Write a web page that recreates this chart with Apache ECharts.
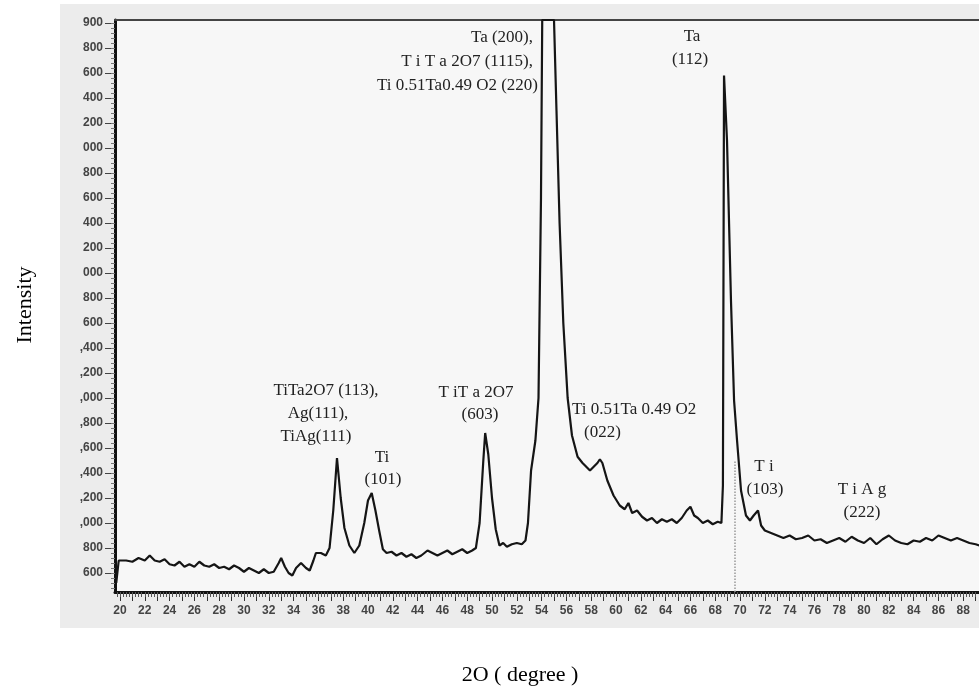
<!DOCTYPE html>
<html>
<head>
<meta charset="utf-8">
<script src="https://cdn.jsdelivr.net/npm/echarts@6/dist/echarts.min.js"></script>
<style>
  html, body { margin: 0; padding: 0; background: #fff; }
  #chart { width: 979px; height: 691px; }
</style>
</head>
<body>
<div id="chart"></div>
<script>
// 2theta (degree) and intensity
const angle = [
  19.7, 19.9, 20.5, 21.0, 21.5, 22.0, 22.4, 22.8, 23.2, 23.6, 24.0, 24.4, 24.8, 25.2, 25.6,
  26.0, 26.4, 26.8, 27.2, 27.6, 28.0, 28.4, 28.8, 29.2, 29.6, 30.0, 30.4, 30.8, 31.2, 31.6,
  32.0, 32.4, 32.8, 33.0, 33.3, 33.6, 33.9, 34.2, 34.6, 35.0, 35.3, 35.6, 35.8, 36.2, 36.6,
  36.9, 37.2, 37.5, 37.8, 38.1, 38.5, 38.9, 39.3, 39.7, 40.0, 40.3, 40.6, 40.9, 41.2, 41.5,
  41.9, 42.3, 42.7, 43.1, 43.5, 43.9, 44.3, 44.8, 45.2, 45.6, 46.0, 46.4, 46.8, 47.2, 47.6,
  48.0, 48.4, 48.7, 49.0, 49.3, 49.45, 49.7, 50.0, 50.3, 50.6, 50.9, 51.2, 51.6, 52.0, 52.4,
  52.7, 52.9, 53.15, 53.5, 53.75, 53.95, 54.05, 55.0, 55.2, 55.45, 55.75, 56.1, 56.45, 56.9, 57.3,
  57.6, 57.9, 58.2, 58.5, 58.7, 58.9, 59.3, 59.8, 60.3, 60.7, 61.0, 61.3, 61.7, 62.1, 62.5,
  62.9, 63.3, 63.7, 64.1, 64.5, 64.9, 65.3, 65.7, 66.0, 66.3, 66.6, 67.0, 67.4, 67.8, 68.2,
  68.5, 68.62, 68.71, 68.95, 69.27, 69.52, 69.76, 70.08, 70.48, 70.8, 71.1, 71.45, 71.7, 72.0, 72.5,
  73.0, 73.5, 74.0, 74.5, 75.0, 75.5, 76.0, 76.5, 77.0, 77.5, 78.0, 78.5, 79.0, 79.5, 80.0,
  80.5, 81.0, 81.5, 82.0, 82.5, 83.0, 83.5, 84.0, 84.5, 85.0, 85.5, 86.0, 86.5, 87.0, 87.5,
  88.0, 88.5, 89.0, 89.3
];
const intensity = [
  520, 700, 700, 690, 720, 700, 740, 700, 690, 710, 670, 660, 690, 650, 670,
  650, 690, 660, 650, 670, 640, 650, 630, 660, 640, 610, 640, 620, 600, 630,
  600, 610, 680, 720, 650, 600, 580, 640, 680, 640, 620, 700, 760, 760, 740,
  800, 1100, 1520, 1200, 960, 820, 760, 820, 1000, 1180, 1240, 1100, 940, 790, 760,
  770, 740, 760, 730, 750, 720, 740, 780, 760, 740, 760, 780, 750, 770, 790,
  760, 780, 800, 1000, 1500, 1720, 1550, 1200, 950, 820, 840, 810, 830, 840, 830,
  860, 1000, 1420, 1660, 2000, 3600, 5024, 5024, 4300, 3400, 2600, 2000, 1700, 1530, 1480,
  1450, 1420, 1450, 1480, 1510, 1480, 1340, 1220, 1140, 1110, 1160, 1080, 1100, 1050, 1020,
  1040, 1000, 1030, 1010, 1030, 1000, 1040, 1100, 1130, 1060, 1040, 1000, 1020, 990, 1010,
  1000, 1300, 4580, 4060, 2780, 1980, 1660, 1260, 1060, 1020, 1060, 1100, 980, 940, 920,
  900, 880, 900, 870, 880, 900, 860, 870, 840, 860, 880, 850, 890, 860, 840,
  880, 830, 870, 900, 860, 840, 830, 860, 850, 880, 860, 900, 880, 860, 880,
  860, 840, 830, 820
];

// tick labels as printed (left edge of the scan cuts off the leading digits)
const xTickValues = [20, 22, 24, 26, 28, 30, 32, 34, 36, 38, 40, 42, 44, 46, 48, 50, 52, 54,
  56, 58, 60, 62, 64, 66, 68, 70, 72, 74, 76, 78, 80, 82, 84, 86, 88];
const yTickValues = [600, 800, 1000, 1200, 1400, 1600, 1800, 2000, 2200, 2400, 2600, 2800,
  3000, 3200, 3400, 3600, 3800, 4000, 4200, 4400, 4600, 4800, 5000];
const yTickLabels = ['600', '800', ',000', ',200', ',400', ',600', ',800', ',000', ',200', ',400',
  '600', '800', '000', '200', '400', '600', '800', '000', '200', '400', '600', '800', '900'];

const xMin = 19.6, xMax = 89.27, yMin = 448, yMax = 5024;

const xMajor = [], xMinor = [], yMinor = [];
for (let v = 20; v <= 89; v += 1) xMajor.push(v);
for (let v = 19.75; v <= 89.25; v += 0.25) xMinor.push(+v.toFixed(2));
for (let v = 480; v <= 5000; v += 40) yMinor.push(v);

const points = angle.map((a, i) => [a, intensity[i]]);

const serif = 'Liberation Serif, DejaVu Serif, serif';
const noteStyle = { font: '17px ' + serif, fill: '#222' };

function note(text, x, y, align) {
  return {
    type: 'text', x: x, y: y, z: 10,
    style: Object.assign({ text: text, textAlign: align || 'center', textVerticalAlign: 'middle' }, noteStyle)
  };
}

const myChart = echarts.init(document.getElementById('chart'));
myChart.setOption({
  animation: false,
  backgroundColor: '#ffffff',
  grid: { left: 115, right: 0, top: 20, bottom: 99 },
  graphic: [
    { type: 'rect', z: -10, shape: { x: 60, y: 4, width: 919, height: 624 }, style: { fill: '#ececec' } },
    { type: 'rect', z: -9, shape: { x: 115, y: 20, width: 864, height: 572 }, style: { fill: '#f7f7f7' } },
    note('TiTa2O7 (113),', 326, 391),
    note('Ag(111),', 318, 414),
    note('TiAg(111)', 316, 437),
    note('Ti', 382, 458),
    note('(101)', 383, 480),
    note('T iT a 2O7', 476, 393),
    note('(603)', 480, 415),
    note('Ta (200),', 533, 38, 'right'),
    note('T i T a 2O7 (1115),', 533, 62, 'right'),
    note('Ti 0.51Ta0.49 O2 (220)', 538, 86, 'right'),
    note('Ta', 692, 37),
    note('(112)', 690, 60),
    note('Ti 0.51Ta 0.49 O2', 572, 410, 'left'),
    note('(022)', 584, 433, 'left'),
    note('T i', 764, 467),
    note('(103)', 765, 490),
    note('T i A g', 862, 490),
    note('(222)', 862, 513),
    {
      type: 'text', x: 25, y: 305, rotation: Math.PI / 2,
      style: { text: 'Intensity', font: '22px ' + serif, fill: '#000', textAlign: 'center', textVerticalAlign: 'middle' }
    },
    {
      type: 'text', x: 520, y: 675,
      style: { text: '2O ( degree )', font: '22px ' + serif, fill: '#000', textAlign: 'center', textVerticalAlign: 'middle' }
    }
  ],
  xAxis: [
    {
      type: 'value', min: xMin, max: xMax, position: 'bottom',
      axisLine: { lineStyle: { color: '#111', width: 3 } },
      splitLine: { show: false },
      axisTick: { customValues: xMajor, length: 9, lineStyle: { color: '#333', width: 1 } },
      axisLabel: {
        customValues: xTickValues, margin: 13, color: '#444', fontSize: 12, fontWeight: 'bold',
        fontFamily: 'Liberation Sans, Arial, sans-serif'
      }
    },
    {
      type: 'value', min: xMin, max: xMax, position: 'bottom',
      axisLine: { show: false },
      splitLine: { show: false },
      axisTick: { customValues: xMinor, length: 5, lineStyle: { color: '#555', width: 1 } },
      axisLabel: { show: false }
    },
    {
      type: 'value', min: xMin, max: xMax, position: 'top',
      axisLine: { lineStyle: { color: '#444', width: 2 } },
      axisTick: { show: false }, axisLabel: { show: false }, splitLine: { show: false }
    }
  ],
  yAxis: [
    {
      type: 'value', min: yMin, max: yMax,
      axisLine: { show: true, lineStyle: { color: '#111', width: 3 } },
      splitLine: { show: false },
      axisTick: { show: true, customValues: yTickValues, length: 10, lineStyle: { color: '#444', width: 1 } },
      axisLabel: {
        customValues: yTickValues, margin: 12, color: '#444', fontSize: 12, fontWeight: 'bold',
        fontFamily: 'Liberation Sans, Arial, sans-serif',
        formatter: function (v) {
          const i = yTickValues.indexOf(v);
          return i >= 0 ? yTickLabels[i] : '';
        }
      }
    },
    {
      type: 'value', min: yMin, max: yMax, position: 'left',
      axisLine: { show: false },
      splitLine: { show: false },
      axisTick: { show: true, customValues: yMinor, length: 4, lineStyle: { color: '#777', width: 1 } },
      axisLabel: { show: false }
    }
  ],
  series: [
    {
      type: 'line',
      data: points,
      showSymbol: false,
      symbol: 'none',
      lineStyle: { color: '#151515', width: 2.2 },
      markLine: {
        silent: true, symbol: 'none', label: { show: false },
        lineStyle: { color: '#999', type: 'dotted', width: 1.5 },
        data: [[{ coord: [69.6, yMin] }, { coord: [69.6, 1500] }]]
      }
    }
  ]
});
window.onresize = function () {
  myChart.resize();
};
</script>
</body>
</html>
